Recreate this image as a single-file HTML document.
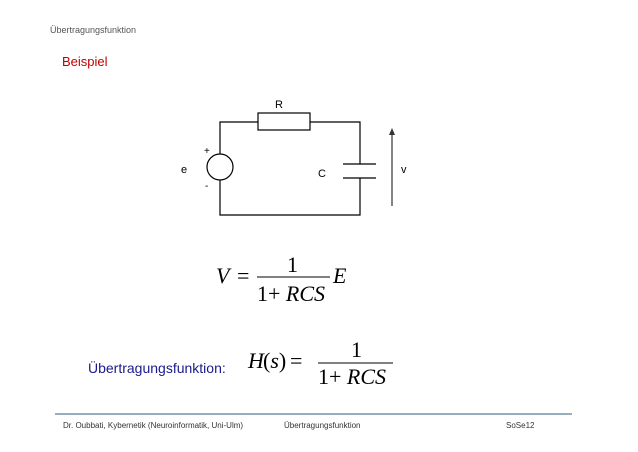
<!DOCTYPE html>
<html><head><meta charset="utf-8"><style>
html,body{margin:0;padding:0;background:#fff;}
svg{display:block;}
.s{font-family:"Liberation Sans",sans-serif;}
.m{font-family:"Liberation Serif",serif;font-style:italic;font-size:22px;}
.n{font-family:"Liberation Serif",serif;font-size:22px;}
</style></head><body>
<svg width="638" height="452" viewBox="0 0 638 452" xmlns="http://www.w3.org/2000/svg">
<text x="50" y="33" class="s" font-size="9" fill="#555">Übertragungsfunktion</text>
<text x="62" y="66" class="s" font-size="13" fill="#c00000">Beispiel</text>
<g stroke="#000" stroke-width="1.2" fill="none">
<path d="M220 154 V122 H258 M310 122 H360 V164 M360 178 V215 H220 V180"/>
<rect x="258" y="113" width="52" height="17"/>
<circle cx="220" cy="167" r="13"/>
<path d="M343 164 H376 M343 178 H376"/>
<path d="M392 206 V134" stroke="#333"/>
</g>
<path d="M389 135 L392 128 L395 135 Z" fill="#333"/>
<g class="s" font-size="11" fill="#000">
<text x="275" y="108">R</text>
<text x="181" y="173">e</text>
<text x="204" y="154" font-size="10">+</text>
<text x="205" y="189" font-size="10">-</text>
<text x="318" y="177">C</text>
<text x="401" y="173">v</text>
</g>
<text x="216" y="283" class="m">V</text>
<text x="237" y="283" class="n">=</text>
<line x1="257" y1="277" x2="330" y2="277" stroke="#000" stroke-width="1"/>
<text x="287" y="272" class="n">1</text>
<text x="257" y="301" class="n">1+ <tspan font-style="italic">RCS</tspan></text>
<text x="333" y="283" class="m">E</text>
<text x="88" y="373" class="s" font-size="14" fill="#1a1a8c">Übertragungsfunktion:</text>
<text x="248" y="368" class="m">H</text>
<text x="263" y="368" class="n">(<tspan font-style="italic">s</tspan>)</text>
<text x="290" y="368" class="n">=</text>
<line x1="318" y1="363" x2="393" y2="363" stroke="#000" stroke-width="1"/>
<text x="351" y="357" class="n">1</text>
<text x="318" y="384" class="n">1+ <tspan font-style="italic">RCS</tspan></text>
<line x1="55" y1="414" x2="572" y2="414" stroke="#2f5f7a" stroke-width="1"/>
<g class="s" font-size="8" fill="#333">
<text x="63" y="428">Dr. Oubbati, Kybernetik (Neuroinformatik, Uni-Ulm)</text>
<text x="284" y="428">Übertragungsfunktion</text>
<text x="506" y="428">SoSe12</text>
</g>
</svg>
</body></html>
